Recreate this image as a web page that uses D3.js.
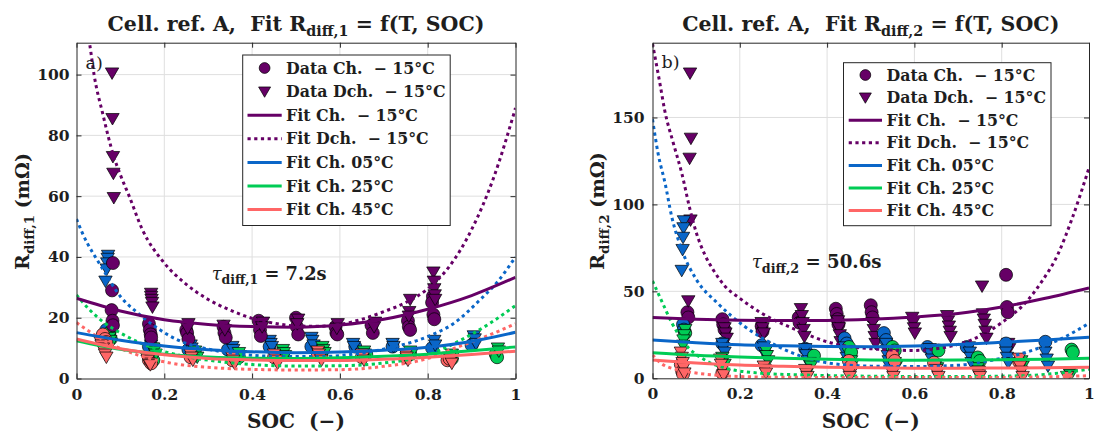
<!DOCTYPE html>
<html><head><meta charset="utf-8">
<script src="https://cdn.jsdelivr.net/npm/d3@7/dist/d3.min.js"></script>
<style>body{margin:0;background:#fff}svg{display:block}</style>
</head><body>
<svg id="c" width="1096" height="435"></svg>
<script>
// ---------------- tick labels ----------------
const socTicks = [0, 0.2, 0.4, 0.6, 0.8, 1];
const yTicksA = [0, 20, 40, 60, 80, 100];
const yTicksB = [0, 50, 100, 150];
const yMaxA = 110.5;
const yMaxB = 193;

const legendLabels = ["Data Ch.\u00A0\u00A0\u2212\u00A015°C", "Data Dch.\u00A0\u00A0\u2212\u00A015°C",
  "Fit Ch.\u00A0\u00A0\u2212\u00A015°C", "Fit Dch.\u00A0\u00A0\u2212\u00A015°C",
  "Fit Ch. 05°C", "Fit Ch. 25°C", "Fit Ch. 45°C"];
const titles = [["Cell. ref. A,\u00A0 Fit R", "diff,1", " = f(T,\u00A0SOC)"], ["Cell. ref. A,\u00A0 Fit R", "diff,2", " = f(T,\u00A0SOC)"]];
const yLabels = [["R", "diff,1", "\u00A0(mΩ)"], ["R", "diff,2", "\u00A0(mΩ)"]];
const tauTexts = [["τ", "diff,1", " = 7.2s"], ["τ", "diff,2", " = 50.6s"]];
const panelLetters = ["a)", "b)"];

// ---------------- panel a: fits [SOC, Rdiff,1 mOhm] ----------------
const fitA_ChM15 = [[0,26.4],[0.1,22.2],[0.2,19.3],[0.3,17.8],[0.4,17.1],[0.5,16.9],[0.6,17.6],[0.7,19.5],[0.8,22.8],[0.9,27.3],[1,33.3]];
const fitA_DchM15 = [[0.025,114],[0.03,110],[0.04,100],[0.06,87],[0.085,73],[0.1,67],[0.12,60],[0.15,49],[0.2,38],[0.25,31],[0.3,26],[0.35,22.5],[0.4,19.8],[0.45,18.2],[0.5,17.3],[0.55,17.2],[0.6,17.8],[0.65,19.5],[0.7,22],[0.75,25],[0.8,29.5],[0.85,37],[0.9,49],[0.95,66],[1,89]];
const fitA_Ch05 = [[0,15.1],[0.1,12.6],[0.2,10.7],[0.3,9.5],[0.4,8.8],[0.5,8.5],[0.6,8.7],[0.7,9.3],[0.8,10.3],[0.9,12.2],[1,15.2]];
const fitA_Dch05 = [[0,52.5],[0.013,48],[0.06,36],[0.1,27],[0.14,21.5],[0.18,17],[0.23,12.7],[0.29,10],[0.37,8.1],[0.45,7.3],[0.55,7.2],[0.63,8],[0.71,10],[0.8,13.8],[0.86,18.2],[0.92,26],[0.96,32],[1,40]];
const fitA_Ch25 = [[0,12.4],[0.1,9.6],[0.2,8],[0.3,7.1],[0.4,6.7],[0.5,6.6],[0.6,6.8],[0.7,7.3],[0.8,8],[0.9,9.1],[1,10.4]];
const fitA_Dch25 = [[0,27.5],[0.03,22.6],[0.06,18.7],[0.1,15],[0.175,10],[0.25,7.2],[0.33,5.5],[0.4,4.6],[0.5,4.1],[0.6,4.2],[0.7,5.1],[0.8,7.7],[0.86,11.5],[0.94,18],[1,24]];
const fitA_Ch45 = [[0,13],[0.1,9.8],[0.2,7.8],[0.3,6.6],[0.4,6.1],[0.5,5.9],[0.6,5.9],[0.7,6.3],[0.8,7],[0.9,7.9],[1,9]];
const fitA_Dch45 = [[0,18.4],[0.06,12.7],[0.14,7.7],[0.21,5.2],[0.33,3.4],[0.4,3],[0.5,2.8],[0.6,2.9],[0.7,4],[0.8,6.6],[0.86,9.9],[0.94,14.3],[1,18]];

// ---------------- panel a: measured data [SOC, Rdiff,1] ----------------
const dataA_ChM15 = [[0.083,38],[0.081,29],[0.08,22.5],[0.082,19],[0.083,17.5],[0.165,18],[0.167,16],[0.169,14.5],[0.17,13.5],[0.25,16],[0.252,15],[0.255,13],[0.335,17],[0.337,15],[0.34,13.5],[0.415,19],[0.418,16],[0.42,14],[0.5,20],[0.502,17],[0.505,14.5],[0.59,17],[0.592,15],[0.594,14.5],[0.672,17.5],[0.675,15],[0.755,19],[0.757,17],[0.76,16],[0.812,27],[0.81,25],[0.813,21],[0.815,19.5]];
const dataA_DchM15 = [[0.081,100.5],[0.082,85.5],[0.083,73],[0.084,67.5],[0.085,59.5],[0.17,28],[0.17,27],[0.171,26],[0.172,25],[0.173,23.5],[0.255,18],[0.253,16.5],[0.335,17.5],[0.338,16],[0.425,18.5],[0.423,17],[0.505,19.5],[0.503,18],[0.595,18],[0.593,16.5],[0.68,18.5],[0.678,17],[0.76,26],[0.758,22],[0.757,20.5],[0.813,35],[0.814,32],[0.815,29.5],[0.816,27.5],[0.817,26]];
const dataA_Ch05 = [[0.068,16],[0.07,14.5],[0.165,10.5],[0.255,9.5],[0.345,9.5],[0.44,10.5],[0.535,10.5],[0.635,10.5],[0.72,10.5],[0.81,10],[0.9,11]];
const dataA_Dch05 = [[0.072,40.5],[0.071,39.5],[0.07,38],[0.069,36],[0.066,32],[0.17,11],[0.172,10],[0.26,11],[0.262,10],[0.355,10.5],[0.357,9.5],[0.44,12.5],[0.442,11.5],[0.445,10.5],[0.535,13.5],[0.537,12.5],[0.54,11],[0.63,11.5],[0.632,10.5],[0.72,11.5],[0.722,10.5],[0.815,12.5],[0.817,11],[0.905,14],[0.907,13],[0.91,11.5]];
const dataA_Ch25 = [[0.075,15],[0.078,13],[0.17,7],[0.175,6],[0.265,8],[0.37,7],[0.47,8],[0.56,9],[0.66,8],[0.76,8],[0.85,7],[0.855,6.5],[0.955,8],[0.958,7]];
const dataA_Dch25 = [[0.075,13.5],[0.077,12.5],[0.078,11.5],[0.175,10],[0.177,9],[0.18,8],[0.27,9],[0.272,8],[0.275,7],[0.37,8.5],[0.372,7.5],[0.47,9.5],[0.472,8.5],[0.475,7.5],[0.56,10.5],[0.562,9.5],[0.565,8.5],[0.655,9],[0.657,8],[0.76,9],[0.762,8],[0.855,8],[0.857,7],[0.96,10],[0.962,9]];
const dataA_Ch45 = [[0.06,14.5],[0.065,13],[0.068,12],[0.165,6],[0.17,5],[0.26,7],[0.355,6],[0.45,7],[0.55,8],[0.65,7],[0.75,7],[0.845,6],[0.85,6.5]];
const dataA_Dch45 = [[0.055,12],[0.057,11],[0.06,10],[0.063,9],[0.065,8],[0.068,7],[0.16,7],[0.162,6],[0.165,5],[0.168,4.5],[0.26,8],[0.262,7],[0.265,6],[0.355,7],[0.357,6],[0.36,5],[0.45,8],[0.452,7],[0.455,6],[0.458,5],[0.55,9],[0.552,8],[0.555,7],[0.558,6],[0.65,8],[0.652,7],[0.655,6],[0.75,8],[0.752,7],[0.755,6],[0.85,7],[0.852,6],[0.855,5]];

// ---------------- panel b: fits [SOC, Rdiff,2 mOhm] ----------------
const fitB_ChM15 = [[0,35],[0.1,34],[0.2,33.4],[0.3,33.2],[0.4,33.3],[0.5,34],[0.6,35.3],[0.7,37.3],[0.8,41],[0.9,46],[1,52]];
const fitB_DchM15 = [[0,192.5],[0.017,169.5],[0.028,154],[0.048,135],[0.067,118],[0.086,97],[0.1,84],[0.12,71],[0.14,62],[0.166,53],[0.2,46],[0.25,37.4],[0.33,27.8],[0.4,21],[0.5,17],[0.6,16],[0.65,17],[0.7,19.5],[0.73,22],[0.8,32],[0.86,45],[0.89,55],[0.93,72],[0.96,91],[1,121]];
const fitB_Ch05 = [[0,22],[0.1,20.5],[0.2,19.3],[0.3,18.7],[0.4,18.3],[0.5,18.2],[0.6,18.6],[0.7,19.5],[0.8,20.7],[0.9,22],[1,23.6]];
const fitB_Dch05 = [[0,149],[0.013,129],[0.029,112],[0.044,93],[0.067,74],[0.1,57],[0.15,43],[0.21,30],[0.29,18],[0.37,10.5],[0.45,7.5],[0.5,7],[0.6,6.8],[0.7,7.5],[0.78,10.5],[0.86,15.3],[0.93,22],[1,31.6]];
const fitB_Ch25 = [[0,14.7],[0.1,13.2],[0.2,12.2],[0.3,11.5],[0.4,10.9],[0.5,10.5],[0.6,10.4],[0.7,10.5],[0.8,10.7],[0.9,11],[1,11.5]];
const fitB_Dch25 = [[0,56],[0.02,45],[0.044,32],[0.074,20],[0.12,10.5],[0.17,5.7],[0.25,2.9],[0.35,1.9],[0.5,1.2],[0.7,1],[0.85,1.5],[0.93,3],[1,5.2]];
const fitB_Ch45 = [[0,10.5],[0.1,8.8],[0.2,7.6],[0.3,6.9],[0.4,6.4],[0.5,6],[0.6,5.8],[0.7,5.8],[0.8,5.9],[0.9,6],[1,6.3]];
const fitB_Dch45 = [[0,13.4],[0.02,8.6],[0.06,4.8],[0.1,3],[0.14,1.9],[0.2,1],[0.3,0.6],[0.5,0.4],[0.7,0.4],[0.9,0.8],[1,1.5]];

// ---------------- panel b: measured data [SOC, Rdiff,2] ----------------
const dataB_ChM15 = [[0.08,38],[0.082,35],[0.16,34],[0.162,31],[0.165,28],[0.25,30],[0.252,27],[0.335,35],[0.337,32],[0.42,40],[0.422,37],[0.424,34],[0.426,31],[0.5,42],[0.502,38],[0.504,35],[0.81,59.5],[0.812,41],[0.814,38]];
const dataB_DchM15 = [[0.086,175.5],[0.088,138],[0.085,126.5],[0.087,91],[0.082,44.5],[0.165,29],[0.167,26],[0.17,23],[0.25,32],[0.252,29],[0.255,26],[0.34,40],[0.342,36],[0.344,32],[0.346,28],[0.348,24],[0.425,33],[0.427,29],[0.429,25],[0.431,21],[0.505,32],[0.507,28],[0.509,24],[0.511,20],[0.595,35],[0.597,32],[0.599,29],[0.601,26],[0.675,36],[0.677,33],[0.679,30],[0.681,27],[0.683,24],[0.755,53],[0.757,37],[0.759,34],[0.761,31],[0.763,27],[0.765,23],[0.815,20],[0.817,17]];
const dataB_Ch05 = [[0.07,31],[0.072,28],[0.16,20],[0.25,19],[0.35,17],[0.44,23],[0.445,20],[0.53,26],[0.535,22],[0.63,18],[0.72,18],[0.81,20],[0.9,21]];
const dataB_Dch05 = [[0.072,90.5],[0.071,86.5],[0.07,81],[0.069,74],[0.067,62],[0.16,20],[0.162,17.5],[0.165,15],[0.255,18],[0.257,15],[0.26,13],[0.35,17],[0.352,13.5],[0.355,10],[0.44,18],[0.442,15],[0.445,12],[0.448,9],[0.535,20],[0.537,16],[0.539,13],[0.541,10],[0.543,7],[0.635,17],[0.637,14],[0.64,11],[0.725,18],[0.727,15],[0.729,12],[0.731,9],[0.81,15],[0.812,12],[0.815,9],[0.9,15],[0.903,11],[0.906,7]];
const dataB_Ch25 = [[0.075,26],[0.37,13],[0.45,18],[0.455,15],[0.55,18],[0.555,16],[0.655,16],[0.745,12],[0.75,10],[0.96,16.5],[0.963,15]];
const dataB_Dch25 = [[0.075,28],[0.073,25],[0.071,22],[0.07,19],[0.16,12],[0.162,10],[0.165,8],[0.26,16],[0.262,13],[0.265,10],[0.36,9],[0.363,7],[0.455,10],[0.458,8],[0.555,9],[0.558,7],[0.65,8],[0.652,6],[0.745,6],[0.748,4],[0.845,10],[0.848,7],[0.955,3],[0.958,2]];
const dataB_Ch45 = [[0.065,8],[0.068,4],[0.07,2.5],[0.16,3],[0.45,10],[0.455,7],[0.55,13],[0.555,10],[0.645,9],[0.84,9.5]];
const dataB_Dch45 = [[0.065,15],[0.067,12],[0.069,9],[0.071,6],[0.073,3],[0.155,11],[0.157,8],[0.16,5],[0.163,2],[0.255,7],[0.257,5],[0.26,3],[0.35,5],[0.352,3],[0.355,1],[0.45,3],[0.452,1],[0.55,3],[0.552,1],[0.65,5],[0.652,3],[0.655,1],[0.745,4],[0.748,2],[0.75,1],[0.84,11.5],[0.842,7],[0.845,4],[0.848,1],[0.95,1]];

// ---------------- styling ----------------
const C = {m15: "#660066", p05: "#0A66C8", p25: "#00CC55", p45: "#FF6666"};
const FONT = "'DejaVu Serif', serif";
const INK = "#1e1e1e";
const svg = d3.select("#c");
const defs = svg.append("defs");

function fitText(sel, target) {
  const w = sel.node().getComputedTextLength();
  const fs = parseFloat(sel.attr("font-size"));
  sel.attr("font-size", fs * target / w);
  return fs * target / w;
}
function richText(parent, parts, opts) {
  const t = parent.append("text").attr("font-family", FONT).attr("font-size", opts.size)
    .attr("fill", INK).attr("text-anchor", opts.anchor || "start");
  t.append("tspan").text(parts[0]).attr("font-weight", opts.firstWeight || "bold")
    .attr("font-style", opts.firstItalic ? "italic" : null);
  t.append("tspan").text(parts[1]).attr("font-weight", "bold").attr("font-size", "70%").attr("dy", "0.36em");
  t.append("tspan").text(parts[2]).attr("font-weight", "bold").attr("dy", "-0.252em");
  return t;
}
function triPath(cx, cy, w) {
  const h = w * 0.86;
  return `M${cx - w/2},${cy - h*0.45}L${cx + w/2},${cy - h*0.45}L${cx},${cy + h*0.55}Z`;
}

function drawPanel(p) {
  const x = d3.scaleLinear().domain([0, 1]).range([p.x0, p.x1]);
  const y = d3.scaleLinear().domain([0, p.yMax]).range([p.yBot, p.yTop]);
  const g = svg.append("g");

  // grid
  g.append("g").selectAll("line").data(socTicks.slice(1, -1)).join("line")
    .attr("x1", d => x(d)).attr("x2", d => x(d)).attr("y1", p.yTop).attr("y2", p.yBot)
    .attr("stroke", "#dfdfdf").attr("stroke-width", 1);
  g.append("g").selectAll("line").data(p.yTicks.filter(v => v > 0)).join("line")
    .attr("x1", p.x0).attr("x2", p.x1).attr("y1", d => y(d)).attr("y2", d => y(d))
    .attr("stroke", "#dfdfdf").attr("stroke-width", 1);

  defs.append("clipPath").attr("id", "clip" + p.id).append("rect")
    .attr("x", p.x0).attr("y", p.yTop).attr("width", p.x1 - p.x0).attr("height", p.yBot - p.yTop);
  const plot = g.append("g").attr("clip-path", `url(#clip${p.id})`);

  // scatter
  p.scatter.forEach(s => {
    const sel = plot.append("g").selectAll("path").data(s.data).join("path")
      .attr("fill", s.color).attr("stroke", "#000").attr("stroke-width", 0.7);
    if (s.shape === "o") sel.attr("d", d3.symbol(d3.symbolCircle, Math.PI * 6.5 * 6.5)()).attr("transform", d => `translate(${x(d[0])},${y(d[1])})`);
    else sel.attr("d", d => triPath(x(d[0]), y(d[1]), 13.4));
  });

  // fits
  const line = d3.line().x(d => x(d[0])).y(d => y(d[1])).curve(d3.curveMonotoneX);
  p.fits.forEach(f => {
    plot.append("path").attr("d", line(f.data)).attr("fill", "none").attr("stroke", f.color)
      .attr("stroke-width", 3).attr("stroke-dasharray", f.dotted ? "3.2 3.5" : null);
  });

  // axes (box with inward ticks)
  const styleAxis = a => {
    a.attr("font-family", FONT).attr("font-size", 15.5).attr("font-weight", "bold");
    a.selectAll(".domain").attr("stroke", "#262626").attr("stroke-width", 1);
    a.selectAll(".tick line").attr("stroke", "#262626").attr("stroke-width", 1);
    a.selectAll(".tick text").attr("fill", INK);
  };
  g.append("g").attr("transform", `translate(0,${p.yBot})`)
    .call(d3.axisBottom(x).tickValues(socTicks).tickSizeInner(-5).tickSizeOuter(0).tickPadding(10).tickFormat(d3.format("~g"))).call(styleAxis);
  g.append("g").attr("transform", `translate(0,${p.yTop})`)
    .call(d3.axisTop(x).tickValues(socTicks).tickSizeInner(-5).tickSizeOuter(0).tickFormat("")).call(styleAxis);
  g.append("g").attr("transform", `translate(${p.x0},0)`)
    .call(d3.axisLeft(y).tickValues(p.yTicks).tickSizeInner(-5).tickSizeOuter(0).tickPadding(p.tickPad)).call(styleAxis);
  g.append("g").attr("transform", `translate(${p.x1},0)`)
    .call(d3.axisRight(y).tickValues(p.yTicks).tickSizeInner(-5).tickSizeOuter(0).tickFormat("")).call(styleAxis);

  // title
  const t = richText(svg, p.title, {size: 20, anchor: "middle"}).attr("x", (p.x0 + p.x1) / 2).attr("y", p.titleY);
  fitText(t, p.titleW);
  // y label
  const yl = richText(svg, p.ylabel, {size: 20, anchor: "middle"})
    .attr("transform", `translate(${p.ylabX},${p.ylabY}) rotate(-90)`);
  fitText(yl, p.ylabW);
  // x label
  const xl = svg.append("text").attr("font-family", FONT).attr("font-weight", "bold").attr("font-size", 20)
    .attr("fill", INK).attr("text-anchor", "middle").attr("x", (p.x0 + p.x1) / 2).attr("y", 428)
    .text("SOC\u00A0\u00A0(\u2212)");
  fitText(xl, 98);
  // tau annotation
  const ta = richText(svg, p.tau, {size: 19, firstWeight: "normal", firstItalic: true})
    .attr("x", p.tauX).attr("y", p.tauY);
  fitText(ta, p.tauW);
  // panel letter
  svg.append("text").attr("font-family", FONT).attr("font-size", 17.5).attr("fill", INK)
    .attr("x", p.letX).attr("y", p.letY).text(p.letter);

  // legend
  const L = p.legend;
  const lg = svg.append("g");
  lg.append("rect").attr("x", L.x).attr("y", L.y).attr("width", L.w).attr("height", L.h)
    .attr("fill", "#fff").attr("stroke", "#262626").attr("stroke-width", 1);
  const kinds = [
    {type: "o", color: C.m15}, {type: "v", color: C.m15}, {type: "-", color: C.m15},
    {type: ":", color: C.m15}, {type: "-", color: C.p05}, {type: "-", color: C.p25}, {type: "-", color: C.p45}];
  const texts = [];
  legendLabels.forEach((lab, i) => {
    const cy = L.row0 + i * L.step;
    const k = kinds[i];
    const mx = (L.lx0 + L.lx1) / 2;
    if (k.type === "o") lg.append("circle").attr("cx", mx).attr("cy", cy).attr("r", 5.4).attr("fill", k.color).attr("stroke", "#000").attr("stroke-width", 0.7);
    else if (k.type === "v") lg.append("path").attr("d", triPath(mx, cy, 12)).attr("fill", k.color).attr("stroke", "#000").attr("stroke-width", 0.7);
    else lg.append("line").attr("x1", L.lx0).attr("x2", L.lx1).attr("y1", cy).attr("y2", cy)
      .attr("stroke", k.color).attr("stroke-width", 3).attr("stroke-dasharray", k.type === ":" ? "3.2 3.5" : null);
    texts.push(lg.append("text").attr("font-family", FONT).attr("font-weight", "bold").attr("font-size", 16)
      .attr("fill", INK).attr("x", L.tx).attr("y", cy + 5.6).text(lab));
  });
  const fs = fitText(texts[1], 159.7);
  texts.forEach(t => t.attr("font-size", fs));
}

drawPanel({
  id: "A", x0: 76.5, x1: 515.5, yTop: 42.7, yBot: 378.5, yMax: yMaxA, yTicks: yTicksA, tickPad: 7,
  title: titles[0], titleY: 30.5, titleW: 377,
  ylabel: yLabels[0], ylabX: 29, ylabY: 211.5, ylabW: 117,
  tau: tauTexts[0], tauX: 211.7, tauY: 280, tauW: 115,
  letter: panelLetters[0], letX: 85.5, letY: 68.5,
  legend: {x: 242.7, y: 55, w: 207.5, h: 170.5, row0: 68, step: 23.6, lx0: 247.5, lx1: 281.7, tx: 286},
  scatter: [
    {data: dataA_Ch05, color: C.p05, shape: "o"}, {data: dataA_Dch05, color: C.p05, shape: "v"},
    {data: dataA_Ch25, color: C.p25, shape: "o"}, {data: dataA_Dch25, color: C.p25, shape: "v"},
    {data: dataA_Ch45, color: C.p45, shape: "o"}, {data: dataA_Dch45, color: C.p45, shape: "v"},
    {data: dataA_ChM15, color: C.m15, shape: "o"}, {data: dataA_DchM15, color: C.m15, shape: "v"}],
  fits: [
    {data: fitA_Dch05, color: C.p05, dotted: true}, {data: fitA_Dch25, color: C.p25, dotted: true},
    {data: fitA_Dch45, color: C.p45, dotted: true}, {data: fitA_DchM15, color: C.m15, dotted: true},
    {data: fitA_Ch05, color: C.p05}, {data: fitA_Ch25, color: C.p25}, {data: fitA_Ch45, color: C.p45},
    {data: fitA_ChM15, color: C.m15}]
});

drawPanel({
  id: "B", x0: 652.5, x1: 1089, yTop: 42.7, yBot: 378.3, yMax: yMaxB, yTicks: yTicksB, tickPad: 8,
  title: titles[1], titleY: 30.5, titleW: 377.5,
  ylabel: yLabels[1], ylabX: 604, ylabY: 211, ylabW: 118,
  tau: tauTexts[1], tauX: 751.7, tauY: 268, tauW: 130,
  letter: panelLetters[1], letX: 661.5, letY: 67.5,
  legend: {x: 843.5, y: 62.7, w: 207.5, h: 163, row0: 75, step: 22.6, lx0: 848.7, lx1: 882, tx: 886.5},
  scatter: [
    {data: dataB_ChM15, color: C.m15, shape: "o"}, {data: dataB_DchM15, color: C.m15, shape: "v"},
    {data: dataB_Ch05, color: C.p05, shape: "o"}, {data: dataB_Dch05, color: C.p05, shape: "v"},
    {data: dataB_Ch25, color: C.p25, shape: "o"}, {data: dataB_Dch25, color: C.p25, shape: "v"},
    {data: dataB_Ch45, color: C.p45, shape: "o"}, {data: dataB_Dch45, color: C.p45, shape: "v"}],
  fits: [
    {data: fitB_Dch05, color: C.p05, dotted: true}, {data: fitB_Dch25, color: C.p25, dotted: true},
    {data: fitB_Dch45, color: C.p45, dotted: true}, {data: fitB_DchM15, color: C.m15, dotted: true},
    {data: fitB_Ch05, color: C.p05}, {data: fitB_Ch25, color: C.p25}, {data: fitB_Ch45, color: C.p45},
    {data: fitB_ChM15, color: C.m15}]
});
</script>
</body></html>
